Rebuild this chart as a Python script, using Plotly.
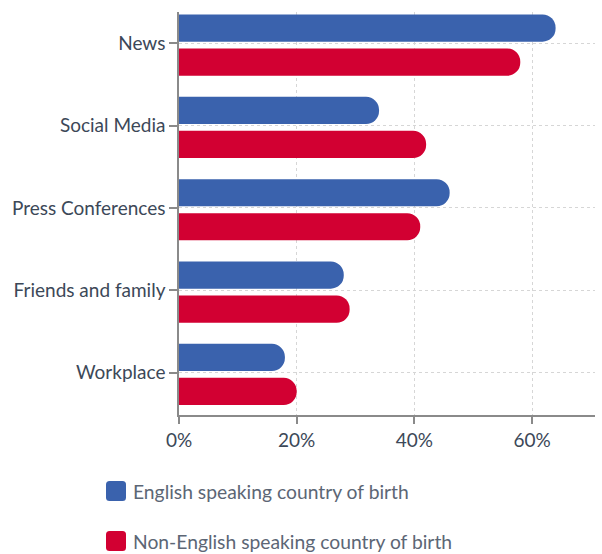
import plotly.graph_objects as go

# Sources of information, share of respondents (%)
categories = ["News", "Social Media", "Press Conferences", "Friends and family", "Workplace"]
english_birth = [64, 34, 46, 28, 18]
non_english_birth = [58, 42, 41, 29, 20]
series_names = ["English speaking country of birth", "Non-English speaking country of birth"]
x_ticks = [0, 20, 40, 60]
x_tick_labels = ["0%", "20%", "40%", "60%"]

BLUE = "#3a62ad"
RED = "#d20032"
TEXT = "#3c4858"
LEGEND_TEXT = "#5c6675"
GRID = "#d6d6d6"
AXIS = "#8a8a8a"

W, H = 602, 554
L, R, T, B = 179, 7, 12, 139
plot_w = W - L - R
plot_h = H - T - B

fig = go.Figure()
fig.add_trace(go.Bar(
    y=categories, x=english_birth, orientation="h", name=series_names[0],
    marker=dict(color=BLUE, line=dict(width=0)),
    offset=-0.35, width=0.33, showlegend=False, hoverinfo="x+y",
))
fig.add_trace(go.Bar(
    y=categories, x=non_english_birth, orientation="h", name=series_names[1],
    marker=dict(color=RED, line=dict(width=0)),
    offset=0.063, width=0.33, showlegend=False, hoverinfo="x+y",
))


def px_x(px):
    return (px - L) / plot_w


def px_y(py):
    return (H - B - py) / plot_h


def rounded_square(x0, y0, size, r):
    # path in paper coordinates for a rounded square with top-left corner at (x0, y0) px
    x1, y1 = x0 + size, y0 + size
    pts = [
        f"M {px_x(x0 + r)},{px_y(y0)}",
        f"L {px_x(x1 - r)},{px_y(y0)}",
        f"Q {px_x(x1)},{px_y(y0)} {px_x(x1)},{px_y(y0 + r)}",
        f"L {px_x(x1)},{px_y(y1 - r)}",
        f"Q {px_x(x1)},{px_y(y1)} {px_x(x1 - r)},{px_y(y1)}",
        f"L {px_x(x0 + r)},{px_y(y1)}",
        f"Q {px_x(x0)},{px_y(y1)} {px_x(x0)},{px_y(y1 - r)}",
        f"L {px_x(x0)},{px_y(y0 + r)}",
        f"Q {px_x(x0)},{px_y(y0)} {px_x(x0 + r)},{px_y(y0)}",
        "Z",
    ]
    return " ".join(pts)


shapes = []
annotations = []
for i, (name, color) in enumerate(zip(series_names, [BLUE, RED])):
    top = 481 + i * 50
    shapes.append(dict(
        type="path", xref="paper", yref="paper",
        path=rounded_square(106, top, 20, 3.5),
        fillcolor=color, line=dict(width=0), layer="above",
    ))
    annotations.append(dict(
        x=px_x(131), y=px_y(top + 10), xref="paper", yref="paper",
        xanchor="left", yanchor="middle", showarrow=False,
        text=name, font=dict(size=19.3, color=LEGEND_TEXT, family="Lato"),
    ))

fig.update_layout(
    width=W, height=H,
    margin=dict(l=L, r=R, t=T, b=B, pad=0),
    paper_bgcolor="white", plot_bgcolor="white",
    barmode="overlay",
    barcornerradius="50%",
    font=dict(family="Lato", size=19, color=TEXT),
    showlegend=False,
    shapes=shapes,
    annotations=annotations,
    xaxis=dict(
        range=[0, 70.7], tickvals=x_ticks, ticktext=x_tick_labels,
        showgrid=True, gridcolor=GRID, griddash="dot", gridwidth=1,
        zeroline=False, showline=True, linecolor=AXIS, linewidth=1.5,
        ticks="outside", ticklen=7, tickcolor=AXIS, tickwidth=1.5,
        tickfont=dict(size=19, color=TEXT),
    ),
    yaxis=dict(
        range=[4.514, -0.38],
        showgrid=True, gridcolor=GRID, griddash="dot", gridwidth=1,
        zeroline=False, showline=True, linecolor=AXIS, linewidth=1.5,
        ticks="outside", ticklen=8, tickcolor=AXIS, tickwidth=1.5,
        tickfont=dict(size=19, color=TEXT), ticklabelstandoff=0,
    ),
)

fig.write_html("out.html")
